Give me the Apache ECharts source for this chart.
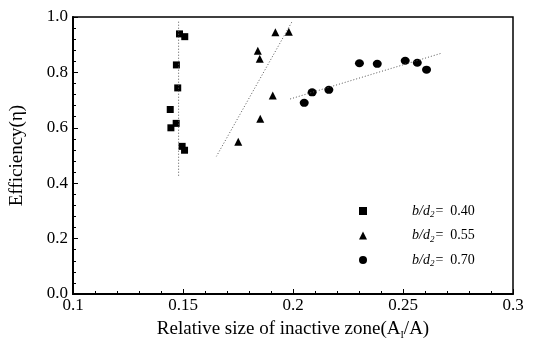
<!DOCTYPE html>
<html>
<head>
<meta charset="utf-8">
<script src="https://cdn.jsdelivr.net/npm/echarts@6/dist/echarts.min.js"></script>
<style>
html,body{margin:0;padding:0;background:#fff;}
#main{width:535px;height:345px;}
</style>
</head>
<body>
<div id="main"></div>
<script>
// 读图得到的数据 (x: A_I/A, y: efficiency)
var sq040 = [[0.1484,0.939],[0.1508,0.929],[0.147,0.827],[0.1476,0.744],[0.1442,0.666],
	[0.1469,0.616],[0.1445,0.600],[0.1496,0.533],[0.1507,0.519]];
var tri055 = [[0.1920,0.945],[0.1981,0.947],[0.1840,0.878],[0.1849,0.849],[0.1908,0.717],
	[0.1851,0.633],[0.1751,0.550]];
var cir070 = [[0.2302,0.833],[0.2383,0.831],[0.2510,0.842],[0.2565,0.835],[0.2607,0.810],
	[0.2087,0.728],[0.2163,0.737],[0.2051,0.690]];
// 拟合线端点
var fit040 = [[0.148,0.983],[0.148,0.425]];
var fit055 = [[0.1994,0.981],[0.1652,0.497]];
var fit070 = [[0.1987,0.704],[0.2678,0.870]];
var legendNames = ['0.40','0.55','0.70'];

var serif = 'Liberation Serif';
var myChart = echarts.init(document.getElementById('main'));

function fitLine(d) {
	return {
		type: 'line', data: d, symbol: 'none', silent: true,
		lineStyle: {color: '#555', width: 1, type: [1, 2]}
	};
}
function dots(name, d, symbol, size) {
	return {
		name: name, type: 'scatter', data: d, symbol: symbol, symbolSize: size,
		itemStyle: {color: '#000', opacity: 1}
	};
}

var option = {
	animation: false,
	grid: {left: 73, right: 22, top: 17, bottom: 50, show: true, borderColor: '#000', borderWidth: 1.5},
	legend: {
		orient: 'vertical', left: 354, top: 199, itemGap: 9,
		itemWidth: 8, itemHeight: 8,
		data: legendNames,
		itemStyle: {opacity: 1},
		formatter: function(n) { return '{s|}{i|b/d}{sub|2}{n|=  ' + n + '}'; },
		textStyle: {
			fontFamily: serif, fontSize: 14, color: '#000',
			rich: {
				s: {width: 40},
				i: {fontFamily: serif, fontSize: 14, fontStyle: 'italic'},
				sub: {fontFamily: serif, fontSize: 9, fontStyle: 'italic', verticalAlign: 'bottom', padding: [8, 0, 0, 0]},
				n: {fontFamily: serif, fontSize: 14, padding: [0, 0, 0, 1]}
			}
		}
	},
	xAxis: {
		type: 'value', min: 0.1, max: 0.3, interval: 0.05,
		name: 'Relative size of inactive zone(A{s|I}/A)', nameLocation: 'middle', nameGap: 25,
		nameTextStyle: {fontFamily: serif, fontSize: 19, color: '#000',
			rich: {s: {fontFamily: serif, fontSize: 10, verticalAlign: 'bottom', padding: [11, 0, 0, 0]}}},
		axisLine: {lineStyle: {color: '#000', width: 2}},
		axisTick: {inside: true, length: 5, lineStyle: {color: '#000'}},
		minorTick: {show: true, splitNumber: 5, length: 3, lineStyle: {color: '#000'}},
		splitLine: {show: false},
		axisLabel: {fontFamily: serif, fontSize: 17, color: '#000', margin: 3,
			formatter: function(v) { return String(parseFloat(v.toFixed(2))); }}
	},
	yAxis: {
		type: 'value', min: 0, max: 1, interval: 0.2,
		name: 'Efficiency(η)', nameLocation: 'middle', nameGap: 46,
		nameTextStyle: {fontFamily: serif, fontSize: 19, color: '#000'},
		axisLine: {lineStyle: {color: '#000', width: 2}},
		axisTick: {inside: true, length: 5, lineStyle: {color: '#000'}},
		minorTick: {show: true, splitNumber: 5, length: 3, lineStyle: {color: '#000'}},
		splitLine: {show: false},
		axisLabel: {fontFamily: serif, fontSize: 17, color: '#000', margin: 5,
			formatter: function(v) { return v.toFixed(1); }}
	},
	series: [
		fitLine(fit040), fitLine(fit055), fitLine(fit070),
		dots('0.40', sq040, 'rect', 7),
		dots('0.55', tri055, 'triangle', 8),
		dots('0.70', cir070, 'circle', [9, 8])
	]
};
myChart.setOption(option);
</script>
</body>
</html>
